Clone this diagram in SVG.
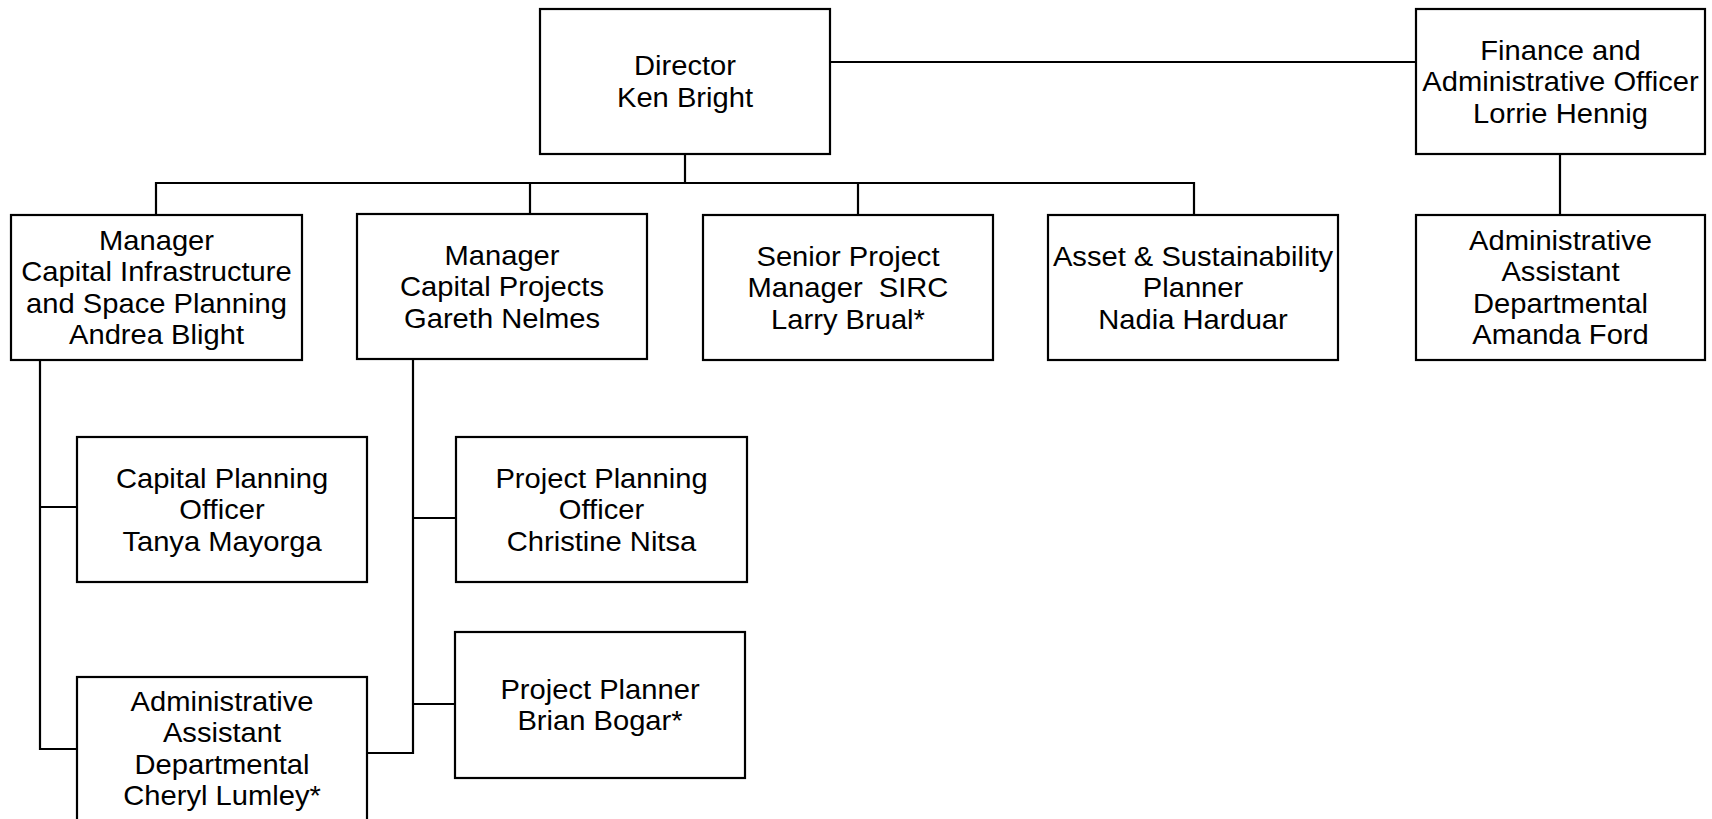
<svg xmlns="http://www.w3.org/2000/svg" width="1712" height="819" viewBox="0 0 1712 819">
<style>
.box{fill:#fff;stroke:#000;stroke-width:2.2}
.c{fill:none;stroke:#000;stroke-width:2.2}
text{font-family:"Liberation Sans",Arial,sans-serif;font-size:27.5px;fill:#000;text-anchor:middle}
</style>
<rect width="1712" height="819" fill="#fff"/>
<g id="connectors">
<path class="c" d="M830 62H1416"/>
<path class="c" d="M685 154V183"/>
<path class="c" d="M156 215V183H1194V215"/>
<path class="c" d="M530 183V215"/>
<path class="c" d="M858 183V215"/>
<path class="c" d="M1560 154V215"/>
<path class="c" d="M40 360V749H77"/>
<path class="c" d="M40 507H77"/>
<path class="c" d="M413 360V753H367"/>
<path class="c" d="M413 518H456"/>
<path class="c" d="M413 704H455"/>
</g>
<g id="director">
<rect class="box" x="540" y="9" width="290" height="145"/>
<g transform="translate(685 0) scale(1.06 1)">
<text x="0" y="75.5">Director</text>
<text x="0" y="107.5">Ken Bright</text>
</g>
</g>
<g id="finance">
<rect class="box" x="1416" y="9" width="289" height="145"/>
<g transform="translate(1560.5 0) scale(1.06 1)">
<text x="0" y="60">Finance and</text>
<text x="0" y="91.5">Administrative Officer</text>
<text x="0" y="123">Lorrie Hennig</text>
</g>
</g>
<g id="manager-infra">
<rect class="box" x="11" y="215" width="291" height="145"/>
<g transform="translate(156.5 0) scale(1.06 1)">
<text x="0" y="250">Manager</text>
<text x="0" y="281.5">Capital Infrastructure</text>
<text x="0" y="313">and Space Planning</text>
<text x="0" y="344.5">Andrea Blight</text>
</g>
</g>
<g id="manager-projects">
<rect class="box" x="357" y="214" width="290" height="145"/>
<g transform="translate(502 0) scale(1.06 1)">
<text x="0" y="265">Manager</text>
<text x="0" y="296.5">Capital Projects</text>
<text x="0" y="328">Gareth Nelmes</text>
</g>
</g>
<g id="senior-pm">
<rect class="box" x="703" y="215" width="290" height="145"/>
<g transform="translate(848 0) scale(1.06 1)">
<text x="0" y="266" xml:space="preserve">Senior Project</text>
<text x="0" y="297.5" xml:space="preserve">Manager  SIRC</text>
<text x="0" y="329">Larry Brual*</text>
</g>
</g>
<g id="asset-planner">
<rect class="box" x="1048" y="215" width="290" height="145"/>
<g transform="translate(1193 0) scale(1.06 1)">
<text x="0" y="266">Asset &amp; Sustainability</text>
<text x="0" y="297.5">Planner</text>
<text x="0" y="329">Nadia Harduar</text>
</g>
</g>
<g id="admin-amanda">
<rect class="box" x="1416" y="215" width="289" height="145"/>
<g transform="translate(1560.5 0) scale(1.06 1)">
<text x="0" y="250">Administrative</text>
<text x="0" y="281.5">Assistant</text>
<text x="0" y="313">Departmental</text>
<text x="0" y="344.5">Amanda Ford</text>
</g>
</g>
<g id="capital-planning-officer">
<rect class="box" x="77" y="437" width="290" height="145"/>
<g transform="translate(222 0) scale(1.06 1)">
<text x="0" y="488">Capital Planning</text>
<text x="0" y="519.5">Officer</text>
<text x="0" y="551">Tanya Mayorga</text>
</g>
</g>
<g id="admin-cheryl">
<rect class="box" x="77" y="677" width="290" height="145"/>
<g transform="translate(222 0) scale(1.06 1)">
<text x="0" y="711">Administrative</text>
<text x="0" y="742.5">Assistant</text>
<text x="0" y="774">Departmental</text>
<text x="0" y="805.5">Cheryl Lumley*</text>
</g>
</g>
<g id="project-planning-officer">
<rect class="box" x="456" y="437" width="291" height="145"/>
<g transform="translate(601.5 0) scale(1.06 1)">
<text x="0" y="488">Project Planning</text>
<text x="0" y="519.5">Officer</text>
<text x="0" y="551">Christine Nitsa</text>
</g>
</g>
<g id="project-planner">
<rect class="box" x="455" y="632" width="290" height="146"/>
<g transform="translate(600 0) scale(1.06 1)">
<text x="0" y="699">Project Planner</text>
<text x="0" y="730.5">Brian Bogar*</text>
</g>
</g>
</svg>
